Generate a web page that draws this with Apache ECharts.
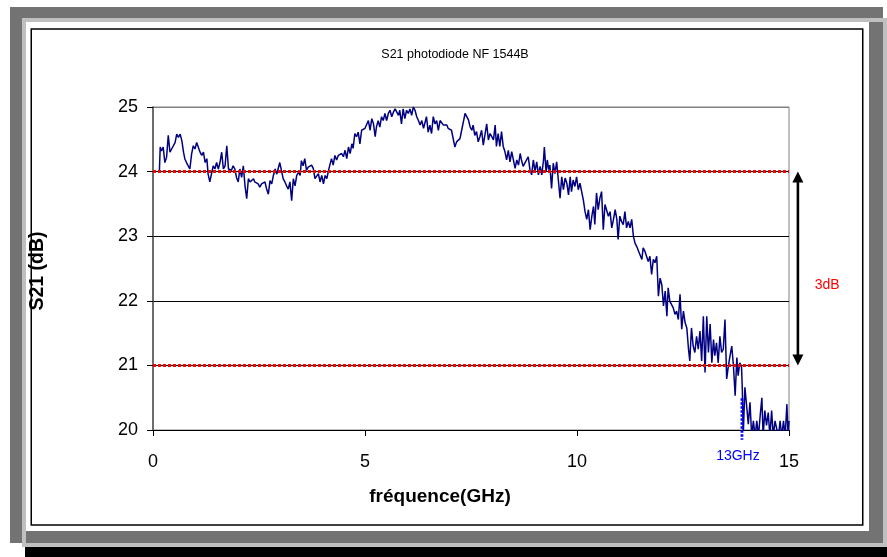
<!DOCTYPE html>
<html>
<head>
<meta charset="utf-8">
<title>S21 photodiode NF 1544B</title>
<script src="https://cdn.jsdelivr.net/npm/echarts@6/dist/echarts.min.js"></script>
<style>
  html, body { margin: 0; padding: 0; background: #fff; }
  #chart { width: 887px; height: 557px; }
</style>
</head>
<body>
<div id="chart"></div>
<script>
// Text
const chartTitle = 'S21 photodiode NF 1544B';
const xAxisTitle = 'fréquence(GHz)';
const yAxisTitle = 'S21 (dB)';

// Axis ticks
const xTickValues = [0, 5, 10, 15];
const yTickValues = [20, 21, 22, 23, 24, 25];

// Measured transmission: [frequency GHz, S21 dB]
const s21Trace = [
  [0.15,23.99],[0.17,24.38],[0.20,24.32],[0.24,24.38],[0.28,24.14],[0.32,24.22],[0.36,24.56],[0.40,24.30],[0.44,24.35],[0.48,24.32],
  [0.52,24.45],[0.56,24.58],[0.60,24.53],[0.64,24.58],[0.68,24.48],[0.72,24.30],[0.75,24.20],[0.79,24.14],[0.83,24.09],[0.87,24.04],
  [0.91,24.27],[0.95,24.40],[0.99,24.35],[1.03,24.45],[1.07,24.48],[1.11,24.30],[1.15,24.25],[1.19,24.30],[1.23,24.14],[1.27,24.20],
  [1.30,23.96],[1.34,23.84],[1.38,23.81],[1.42,24.09],[1.46,24.04],[1.50,24.14],[1.54,24.04],[1.58,24.14],[1.62,24.30],[1.66,24.04],
  [1.70,24.09],[1.74,24.40],[1.78,24.04],[1.82,24.07],[1.85,24.02],[1.89,24.09],[1.93,24.04],[1.97,23.91],[2.01,23.84],[2.05,24.04],
  [2.09,23.91],[2.13,24.09],[2.17,23.78],[2.21,23.58],[2.25,23.89],[2.29,23.84],[2.33,23.86],[2.37,23.89],[2.40,23.84],[2.44,23.86],
  [2.48,23.81],[2.52,23.76],[2.56,23.81],[2.60,23.78],[2.64,23.84],[2.68,23.73],[2.72,23.65],[2.76,23.86],[2.80,23.81],[2.84,23.94],
  [2.88,24.04],[2.92,23.96],[2.95,24.04],[2.99,24.14],[3.03,24.12],[3.07,23.89],[3.11,23.84],[3.15,23.78],[3.19,23.73],[3.23,23.84],
  [3.27,23.55],[3.31,23.89],[3.35,23.78],[3.39,23.94],[3.43,23.99],[3.47,23.94],[3.50,24.17],[3.54,24.09],[3.58,24.20],[3.62,24.02],
  [3.66,24.07],[3.70,24.09],[3.74,24.10],[3.78,24.05],[3.82,23.89],[3.86,23.87],[3.90,23.97],[3.94,23.84],[3.98,23.94],[4.02,23.81],
  [4.06,23.94],[4.10,23.89],[4.14,24.02],[4.17,24.10],[4.21,24.20],[4.25,24.10],[4.29,24.25],[4.33,24.18],[4.37,24.25],[4.41,24.23],
  [4.45,24.28],[4.49,24.23],[4.53,24.33],[4.57,24.20],[4.61,24.38],[4.65,24.28],[4.69,24.43],[4.72,24.36],[4.76,24.59],[4.80,24.54],
  [4.84,24.61],[4.88,24.43],[4.92,24.64],[4.96,24.67],[5.00,24.67],[5.04,24.64],[5.08,24.79],[5.12,24.64],[5.16,24.82],[5.20,24.74],
  [5.24,24.54],[5.27,24.69],[5.31,24.79],[5.35,24.69],[5.39,24.85],[5.43,24.79],[5.47,24.90],[5.51,24.79],[5.55,24.90],[5.59,24.95],
  [5.63,24.85],[5.67,24.92],[5.71,24.97],[5.75,25.00],[5.79,24.87],[5.82,24.95],[5.86,24.74],[5.90,24.97],[5.94,24.82],[5.98,24.95],
  [6.02,24.90],[6.06,24.97],[6.10,24.87],[6.14,25.00],[6.18,24.95],[6.22,24.85],[6.26,24.79],[6.30,24.72],[6.34,24.79],[6.38,24.67],
  [6.41,24.69],[6.45,24.85],[6.49,24.61],[6.53,24.72],[6.57,24.59],[6.61,24.85],[6.65,24.74],[6.69,24.79],[6.73,24.64],[6.77,24.79],
  [6.81,24.77],[6.85,24.72],[6.89,24.74],[6.93,24.72],[6.96,24.67],[7.00,24.69],[7.04,24.64],[7.08,24.61],[7.12,24.38],[7.16,24.46],
  [7.20,24.48],[7.24,24.51],[7.28,24.64],[7.32,24.77],[7.36,24.90],[7.40,24.87],[7.44,24.80],[7.48,24.69],[7.52,24.64],[7.55,24.72],
  [7.59,24.56],[7.63,24.62],[7.67,24.46],[7.71,24.54],[7.75,24.64],[7.79,24.41],[7.83,24.39],[7.87,24.74],[7.91,24.49],[7.95,24.59],
  [7.99,24.54],[8.03,24.49],[8.07,24.72],[8.10,24.39],[8.14,24.59],[8.18,24.39],[8.22,24.62],[8.26,24.39],[8.30,24.31],[8.34,24.18],
  [8.38,24.33],[8.42,24.15],[8.46,24.31],[8.50,24.18],[8.54,24.05],[8.58,24.18],[8.62,24.10],[8.66,24.28],[8.69,24.18],[8.73,24.08],
  [8.77,24.13],[8.81,24.10],[8.85,24.23],[8.89,24.03],[8.93,23.95],[8.97,24.18],[9.01,24.00],[9.05,24.15],[9.09,23.95],[9.13,24.08],
  [9.17,23.95],[9.21,24.18],[9.23,24.38],[9.27,24.00],[9.30,24.18],[9.33,24.03],[9.36,24.10],[9.40,23.74],[9.44,24.13],[9.48,23.97],
  [9.52,24.15],[9.56,23.87],[9.60,23.59],[9.64,23.92],[9.68,23.72],[9.72,23.90],[9.76,23.82],[9.80,23.64],[9.84,23.92],[9.87,23.69],
  [9.91,23.87],[9.95,23.77],[9.99,23.92],[10.03,23.72],[10.07,23.82],[10.11,23.80],[10.15,23.56],[10.19,23.38],[10.23,23.26],[10.27,23.41],
  [10.31,23.10],[10.35,23.31],[10.39,23.46],[10.42,23.18],[10.46,23.67],[10.50,23.41],[10.54,23.59],[10.58,23.69],[10.62,23.10],[10.66,23.49],
  [10.70,23.46],[10.74,23.31],[10.78,23.38],[10.82,23.13],[10.86,23.26],[10.90,23.41],[10.94,23.26],[10.97,22.95],[11.01,23.31],[11.05,23.23],
  [11.09,23.18],[11.13,23.38],[11.17,23.13],[11.21,23.23],[11.25,23.13],[11.29,23.26],[11.33,23.00],[11.37,22.89],[11.41,22.84],[11.45,22.77],
  [11.49,22.74],[11.53,22.64],[11.56,22.82],[11.60,22.77],[11.64,22.69],[11.68,22.61],[11.72,22.69],[11.76,22.41],[11.80,22.64],[11.84,22.59],
  [11.88,22.69],[11.92,22.07],[11.96,22.35],[12.00,22.25],[12.04,21.92],[12.08,22.15],[12.12,21.76],[12.15,22.20],[12.19,21.99],[12.23,22.02],
  [12.27,21.89],[12.31,21.79],[12.35,21.84],[12.39,21.71],[12.43,22.10],[12.47,21.56],[12.51,21.84],[12.55,21.66],[12.59,21.58],[12.63,21.25],
  [12.66,21.07],[12.70,21.58],[12.74,21.30],[12.78,21.20],[12.82,21.45],[12.86,21.25],[12.90,21.53],[12.94,21.07],[12.98,21.76],[13.02,20.89],
  [13.06,21.76],[13.10,21.20],[13.14,21.64],[13.18,21.04],[13.22,21.40],[13.25,21.15],[13.29,21.35],[13.33,21.04],[13.37,21.45],[13.41,21.20],
  [13.45,21.25],[13.49,21.71],[13.53,20.79],[13.57,20.99],[13.61,21.15],[13.65,21.30],[13.69,20.99],[13.73,20.53],[13.77,21.12],[13.80,20.84],
  [13.84,21.04],[13.88,20.99],[13.90,20.61],[13.92,19.90],[13.96,20.66],[14.00,20.38],[14.04,20.09],[14.08,20.43],[14.12,19.90],[14.16,20.14],
  [14.20,19.90],[14.24,20.14],[14.28,19.90],[14.32,20.22],[14.36,20.50],[14.39,19.90],[14.43,20.30],[14.47,20.07],[14.51,20.27],[14.55,19.90],
  [14.59,20.30],[14.63,19.90],[14.67,20.14],[14.71,20.17],[14.75,19.90],[14.79,20.14],[14.83,19.90],[14.87,20.14],[14.91,19.90],[14.95,20.40],
  [14.98,19.90],[15.00,20.14]
];

// Reference levels bounding the 3 dB drop
const refUpper = [[0, 24], [15, 24]];
const refLower = [[0, 21], [15, 21]];

// Double arrow between the two reference levels: [x, from dB, to dB]
const dropArrow = [[15.21, 24, 21]];
const dropLabel = [[15.9, 22.25, '3dB']];

// Cut-off marker: [x, from dB, to dB, label]
const cutoffMarker = [[13.89, 20.49, 19.85, '13GHz']];

const FONT = '"Liberation Sans", Arial, sans-serif';

function renderArrow(params, api) {
  const x = api.value(0);
  const a = api.coord([x, api.value(1)]);
  const b = api.coord([x, api.value(2)]);
  const head = 11, half = 5.5;
  return {
    type: 'group',
    children: [
      { type: 'line', shape: { x1: a[0], y1: a[1] + head - 1, x2: b[0], y2: b[1] - head + 1 },
        style: { stroke: '#000', lineWidth: 2.6 } },
      { type: 'polygon', shape: { points: [[a[0], a[1]], [a[0] - half, a[1] + head], [a[0] + half, a[1] + head]] },
        style: { fill: '#000' } },
      { type: 'polygon', shape: { points: [[b[0], b[1]], [b[0] - half, b[1] - head], [b[0] + half, b[1] - head]] },
        style: { fill: '#000' } }
    ]
  };
}

function renderDropLabel(params, api) {
  const p = api.coord([api.value(0), api.value(1)]);
  return {
    type: 'text',
    x: p[0], y: p[1],
    style: { text: dropLabel[params.dataIndex][2], fill: '#ff0000', font: '14px ' + FONT,
             align: 'center', verticalAlign: 'middle' }
  };
}

function renderCutoff(params, api) {
  const x = api.value(0);
  const a = api.coord([x, api.value(1)]);
  const b = api.coord([x, api.value(2)]);
  const axisPt = api.coord([x, yTickValues[0]]);
  return {
    type: 'group',
    children: [
      { type: 'line', shape: { x1: a[0], y1: a[1], x2: b[0], y2: b[1] },
        style: { stroke: '#0000ff', lineWidth: 2.8, lineDash: [2.5, 1.5] } },
      { type: 'text', x: axisPt[0] - 4, y: axisPt[1] + 26,
        style: { text: cutoffMarker[params.dataIndex][3], fill: '#0000ff', font: '14px ' + FONT,
                 align: 'center', verticalAlign: 'middle' } }
    ]
  };
}

const chart = echarts.init(document.getElementById('chart'), null, { renderer: 'canvas' });

chart.setOption({
  animation: false,
  backgroundColor: '#ffffff',
  graphic: [
    // Bevelled frame with drop shadow
    { type: 'rect', z: -20, shape: { x: 25, y: 547, width: 862, height: 10 }, style: { fill: '#000' } },
    { type: 'rect', z: -19, shape: { x: 10, y: 7, width: 873, height: 536 }, style: { fill: '#737373' } },
    { type: 'rect', z: -18, shape: { x: 24, y: 20, width: 861, height: 525 },
      style: { fill: null, stroke: '#c0c0c0', lineWidth: 4 } },
    { type: 'rect', z: -17, shape: { x: 26, y: 22, width: 843, height: 509 }, style: { fill: '#fff' } },
    { type: 'rect', z: -16, shape: { x: 31.25, y: 29, width: 831.5, height: 496 },
      style: { fill: null, stroke: '#000', lineWidth: 1.5 } },
    // Titles
    { type: 'text', z: 10, x: 455, y: 55,
      style: { text: chartTitle, font: '12.5px ' + FONT, fill: '#000', align: 'center', verticalAlign: 'middle' } },
    { type: 'text', z: 10, x: 440, y: 497,
      style: { text: xAxisTitle, font: 'bold 19px ' + FONT, fill: '#000', align: 'center', verticalAlign: 'middle' } },
    { type: 'text', z: 10, x: 38, y: 271, rotation: Math.PI / 2,
      style: { text: yAxisTitle, font: 'bold 19.5px ' + FONT, fill: '#000', align: 'center', verticalAlign: 'middle' } }
  ],
  grid: {
    left: 153, top: 107, width: 636, height: 323,
    show: true, borderColor: '#808080', borderWidth: 1, backgroundColor: 'transparent',
    outerBoundsMode: 'none', containLabel: false
  },
  xAxis: {
    type: 'value',
    min: xTickValues[0], max: xTickValues[xTickValues.length - 1], interval: 5,
    axisLine: { show: true, onZero: false, lineStyle: { color: '#000', width: 1 } },
    axisTick: { show: true, inside: false, length: 6, lineStyle: { color: '#000', width: 1 } },
    axisLabel: { color: '#000', fontSize: 18, fontFamily: FONT, margin: 23 },
    splitLine: { show: false }
  },
  yAxis: {
    type: 'value',
    min: yTickValues[0], max: yTickValues[yTickValues.length - 1], interval: 1,
    axisLine: { show: true, lineStyle: { color: '#505050', width: 1.5 } },
    axisTick: { show: true, inside: false, length: 6, lineStyle: { color: '#000', width: 1 } },
    axisLabel: { color: '#000', fontSize: 18, fontFamily: FONT, margin: 15 },
    splitLine: { show: true, lineStyle: { color: ['#000', '#000', '#000', '#000', '#000', '#808080'], width: 1 } }
  },
  series: [
    {
      name: 'S21', type: 'line', data: s21Trace, showSymbol: false, symbol: 'none', clip: true,
      lineStyle: { color: '#000080', width: 1.5 }, z: 3, silent: true
    },
    {
      name: 'ref24', type: 'line', data: refUpper, showSymbol: false, symbol: 'none',
      lineStyle: { color: '#ff0000', width: 3, type: [3, 2] }, z: 4, silent: true
    },
    {
      name: 'ref21', type: 'line', data: refLower, showSymbol: false, symbol: 'none',
      lineStyle: { color: '#ff0000', width: 3, type: [3, 2] }, z: 4, silent: true
    },
    {
      name: 'arrow', type: 'custom', data: dropArrow, renderItem: renderArrow, clip: false, silent: true, z: 5
    },
    {
      name: 'arrowLabel', type: 'custom', data: dropLabel.map(d => [d[0], d[1]]), renderItem: renderDropLabel,
      clip: false, silent: true, z: 5
    },
    {
      name: 'cutoff', type: 'custom', data: cutoffMarker.map(d => [d[0], d[1], d[2]]), renderItem: renderCutoff,
      clip: false, silent: true, z: 5
    }
  ]
});
</script>
</body>
</html>
